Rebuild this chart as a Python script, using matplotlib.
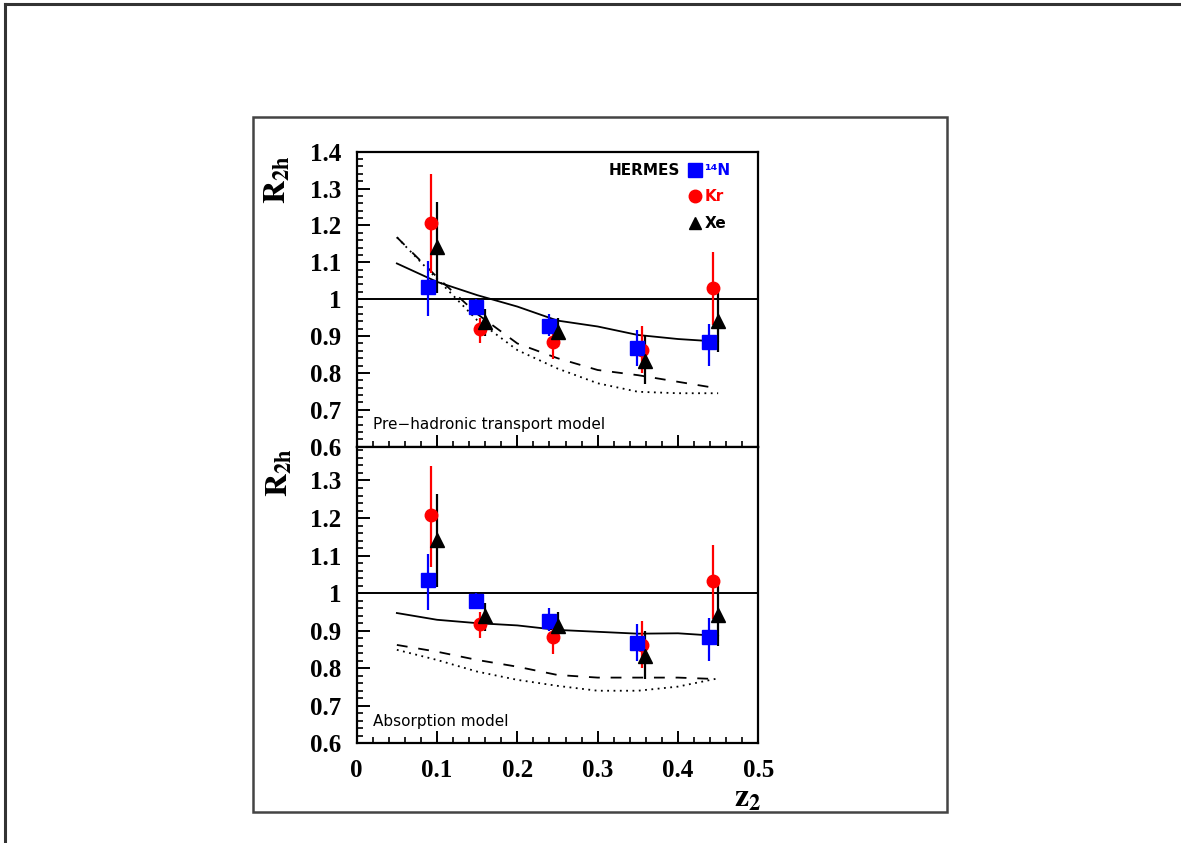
import matplotlib
matplotlib.use("Agg")
import matplotlib.pyplot as plt
from matplotlib.ticker import MultipleLocator, FixedLocator
from matplotlib.patches import Rectangle
from matplotlib.lines import Line2D

plt.rcParams["mathtext.fontset"] = "stix"

# ---------------- data ----------------
n_x = [0.089, 0.149, 0.240, 0.349, 0.439]
n_y = [1.034, 0.980, 0.927, 0.867, 0.883]
n_lo = [0.954, 0.960, 0.900, 0.820, 0.820]
n_hi = [1.104, 1.000, 0.960, 0.917, 0.934]

kr_x = [0.093, 0.154, 0.244, 0.355, 0.444]
kr_y = [1.207, 0.918, 0.883, 0.862, 1.031]
kr_lo = [1.070, 0.880, 0.837, 0.800, 0.930]
kr_hi = [1.339, 0.950, 0.917, 0.927, 1.128]

xe_x = [0.100, 0.160, 0.250, 0.359, 0.450]
xe_y = [1.142, 0.939, 0.912, 0.833, 0.941]
xe_lo = [1.016, 0.900, 0.870, 0.770, 0.858]
xe_hi = [1.264, 0.973, 0.950, 0.899, 1.025]

# model curves, top panel (pre-hadronic transport)
curve_x = [0.05, 0.10, 0.15, 0.20, 0.25, 0.30, 0.35, 0.40, 0.45]
top_solid = [1.097, 1.047, 1.011, 0.980, 0.942, 0.926, 0.903, 0.892, 0.885]
top_dashed = [1.168, 1.060, 0.960, 0.880, 0.840, 0.808, 0.794, 0.776, 0.758]
top_dotted = [1.168, 1.055, 0.943, 0.862, 0.812, 0.772, 0.749, 0.745, 0.745]

# model curves, bottom panel (absorption)
bot_solid = [0.947, 0.929, 0.920, 0.914, 0.902, 0.897, 0.892, 0.893, 0.886]
bot_dashed = [0.862, 0.844, 0.822, 0.804, 0.782, 0.775, 0.775, 0.775, 0.771]
bot_dotted = [0.849, 0.822, 0.791, 0.769, 0.753, 0.740, 0.740, 0.751, 0.773]

x_ticks = [0, 0.1, 0.2, 0.3, 0.4, 0.5]
x_ticklabels = ["0", "0.1", "0.2", "0.3", "0.4", "0.5"]
top_yticks = [0.6, 0.7, 0.8, 0.9, 1.0, 1.1, 1.2, 1.3, 1.4]
top_yticklabels = ["0.6", "0.7", "0.8", "0.9", "1", "1.1", "1.2", "1.3", "1.4"]
bot_yticks = [0.6, 0.7, 0.8, 0.9, 1.0, 1.1, 1.2, 1.3]
bot_yticklabels = ["0.6", "0.7", "0.8", "0.9", "1", "1.1", "1.2", "1.3"]

# ---------------- figure ----------------
W, H = 1181, 843
fig = plt.figure(figsize=(W / 100, H / 100), dpi=100)

def fx(px):
    return px / W

def fy(py):
    return 1 - py / H

# outer frame (only left/top visible)
fig.add_artist(Line2D([fx(5), fx(5)], [fy(4), fy(843)], transform=fig.transFigure,
                      lw=2.2, color="#333333"))
fig.add_artist(Line2D([fx(5), fx(1185)], [fy(4), fy(4)], transform=fig.transFigure,
                      lw=2.2, color="#333333"))
# inner box
fig.add_artist(Rectangle((fx(253), fy(812)), fx(947) - fx(253), fy(117) - fy(812),
                         transform=fig.transFigure, fill=False, lw=1.8, edgecolor="#444444"))

left, right = 356.7, 758.3
ax_top = fig.add_axes([fx(left), fy(446.7), fx(right) - fx(left), fy(151.7) - fy(446.7)])
ax_bot = fig.add_axes([fx(left), fy(743.3), fx(right) - fx(left), fy(446.7) - fy(743.3)])

tickfont = dict(family="Liberation Serif", weight="bold", size=18)

def style(ax, ylim, yticks, ylabels, show_x):
    ax.set_xlim(0, 0.5)
    ax.set_ylim(*ylim)
    for s in ax.spines.values():
        s.set_linewidth(1.6)
    ax.xaxis.set_major_locator(FixedLocator(x_ticks))
    ax.xaxis.set_minor_locator(MultipleLocator(0.02))
    ax.yaxis.set_major_locator(FixedLocator(yticks))
    ax.yaxis.set_minor_locator(MultipleLocator(0.02))
    ax.tick_params(axis="both", which="major", direction="in", length=9, width=1.4, pad=11)
    ax.tick_params(axis="both", which="minor", direction="in", length=4.5, width=1.2)
    ax.tick_params(axis="x", which="both", top=False, bottom=True)
    ax.tick_params(axis="y", which="both", left=True, right=False)
    ax.set_yticklabels(ylabels, fontdict=tickfont)
    if show_x:
        ax.set_xticklabels(x_ticklabels, fontdict=tickfont)
    else:
        ax.set_xticklabels([])
    ax.axhline(1.0, color="black", lw=1.4)

def draw_data(ax):
    for xs, ys, lo, hi, col, mk, ms in [
        (kr_x, kr_y, kr_lo, kr_hi, "#ff0000", "o", 9),
        (n_x, n_y, n_lo, n_hi, "#0000ff", "s", 10),
        (xe_x, xe_y, xe_lo, xe_hi, "black", "^", 10),
    ]:
        yerr = [[y - l for y, l in zip(ys, lo)], [h - y for y, h in zip(ys, hi)]]
        ax.errorbar(xs, ys, yerr=yerr, fmt=mk, color=col, ms=ms, elinewidth=1.6,
                    capsize=0, mec=col, mfc=col, zorder=5)

def draw_curves(ax, solid, dashed, dotted):
    ax.plot(curve_x, solid, color="black", lw=1.3, zorder=3)
    ax.plot(curve_x, dashed, color="black", lw=1.3, ls=(0, (6, 6)), zorder=3)
    ax.plot(curve_x, dotted, color="black", lw=1.3, ls=(0, (1, 2.5)), zorder=3)

style(ax_top, (0.6, 1.4), top_yticks, top_yticklabels, False)
style(ax_bot, (0.6, 1.39), bot_yticks, bot_yticklabels, True)
draw_curves(ax_top, top_solid, top_dashed, top_dotted)
draw_curves(ax_bot, bot_solid, bot_dashed, bot_dotted)
draw_data(ax_top)
draw_data(ax_bot)

# legend (top panel)
lfont = dict(family="DejaVu Sans", weight="bold", size=11)
ax_top.text(0.805, 0.937, "HERMES", transform=ax_top.transAxes, ha="right", va="center", **lfont)
ax_top.plot([0.842], [0.937], "s", color="#0000ff", ms=10, transform=ax_top.transAxes, clip_on=False)
ax_top.text(0.866, 0.937, "\u00b9\u2074N", transform=ax_top.transAxes, ha="left", va="center",
            color="#0000ff", **lfont)
ax_top.plot([0.842], [0.849], "o", color="#ff0000", ms=9, transform=ax_top.transAxes, clip_on=False)
ax_top.text(0.866, 0.849, "Kr", transform=ax_top.transAxes, ha="left", va="center",
            color="#ff0000", **lfont)
ax_top.plot([0.842], [0.758], "^", color="black", ms=9, transform=ax_top.transAxes, clip_on=False)
ax_top.text(0.866, 0.758, "Xe", transform=ax_top.transAxes, ha="left", va="center",
            color="black", **lfont)

ax_top.text(0.04, 0.074, "Pre\u2212hadronic transport model", transform=ax_top.transAxes,
            ha="left", va="center", family="DejaVu Sans", size=11)
ax_bot.text(0.04, 0.072, "Absorption model", transform=ax_bot.transAxes,
            ha="left", va="center", family="DejaVu Sans", size=11)

# axis labels
labfont = dict(size=23)
fig.text(fx(277), fy(180), r"$\mathbf{R}_{\mathbf{2h}}$", rotation=90, ha="center", va="center", **labfont)
fig.text(fx(279), fy(473), r"$\mathbf{R}_{\mathbf{2h}}$", rotation=90, ha="center", va="center", **labfont)
fig.text(fx(748), fy(798), r"$\mathbf{z}_{\mathbf{2}}$", ha="center", va="center", **labfont)

fig.savefig("out.png", dpi=100)
